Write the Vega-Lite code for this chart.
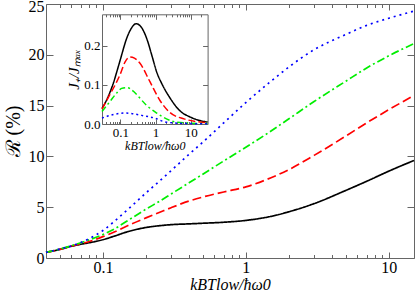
{
  "$schema": "https://vega.github.io/schema/vega-lite/v6.json",
  "width": 368,
  "height": 254,
  "autosize": "none",
  "padding": {"left": 46, "top": 4, "right": 1, "bottom": 37},
  "config": {
    "view": {"stroke": null},
    "axis": {
      "domainColor": "#666666",
      "tickColor": "#666666",
      "labelFont": "Liberation Serif",
      "titleFont": "Liberation Serif",
      "labelColor": "black",
      "titleColor": "black",
      "titleFontWeight": "normal",
      "grid": false,
      "labelOverlap": false,
      "labelFlush": false
    }
  },
  "datasets": {
    "main": [
      {"x": 0.04, "R": 0.55, "s": "a"}, {"x": 0.05, "R": 0.85, "s": "a"}, {"x": 0.06, "R": 1.15, "s": "a"}, {"x": 0.07, "R": 1.35, "s": "a"}, {"x": 0.08, "R": 1.5, "s": "a"}, {"x": 0.1, "R": 1.8, "s": "a"}, {"x": 0.12, "R": 2.15, "s": "a"}, {"x": 0.15, "R": 2.6, "s": "a"}, {"x": 0.2, "R": 3.0, "s": "a"}, {"x": 0.25, "R": 3.18, "s": "a"}, {"x": 0.3, "R": 3.28, "s": "a"}, {"x": 0.4, "R": 3.36, "s": "a"}, {"x": 0.5, "R": 3.42, "s": "a"}, {"x": 0.7, "R": 3.52, "s": "a"}, {"x": 1, "R": 3.7, "s": "a"}, {"x": 1.5, "R": 4.1, "s": "a"}, {"x": 2, "R": 4.55, "s": "a"}, {"x": 3, "R": 5.35, "s": "a"}, {"x": 5, "R": 6.65, "s": "a"}, {"x": 7, "R": 7.55, "s": "a"}, {"x": 10, "R": 8.55, "s": "a"}, {"x": 15, "R": 9.6, "s": "a"},
      {"x": 0.04, "R": 0.55, "s": "b"}, {"x": 0.05, "R": 0.85, "s": "b"}, {"x": 0.06, "R": 1.15, "s": "b"}, {"x": 0.07, "R": 1.4, "s": "b"}, {"x": 0.08, "R": 1.62, "s": "b"}, {"x": 0.1, "R": 2.1, "s": "b"}, {"x": 0.12, "R": 2.55, "s": "b"}, {"x": 0.15, "R": 3.2, "s": "b"}, {"x": 0.2, "R": 3.95, "s": "b"}, {"x": 0.25, "R": 4.5, "s": "b"}, {"x": 0.3, "R": 4.95, "s": "b"}, {"x": 0.4, "R": 5.6, "s": "b"}, {"x": 0.5, "R": 6.0, "s": "b"}, {"x": 0.7, "R": 6.5, "s": "b"}, {"x": 1, "R": 7.0, "s": "b"}, {"x": 1.5, "R": 7.9, "s": "b"}, {"x": 2, "R": 8.7, "s": "b"}, {"x": 3, "R": 10.1, "s": "b"}, {"x": 5, "R": 12.0, "s": "b"}, {"x": 7, "R": 13.3, "s": "b"}, {"x": 10, "R": 14.6, "s": "b"}, {"x": 15, "R": 16.0, "s": "b"},
      {"x": 0.04, "R": 0.55, "s": "c"}, {"x": 0.05, "R": 0.88, "s": "c"}, {"x": 0.06, "R": 1.2, "s": "c"}, {"x": 0.07, "R": 1.5, "s": "c"}, {"x": 0.08, "R": 1.78, "s": "c"}, {"x": 0.1, "R": 2.3, "s": "c"}, {"x": 0.12, "R": 2.85, "s": "c"}, {"x": 0.15, "R": 3.7, "s": "c"}, {"x": 0.2, "R": 4.8, "s": "c"}, {"x": 0.25, "R": 5.6, "s": "c"}, {"x": 0.3, "R": 6.3, "s": "c"}, {"x": 0.4, "R": 7.4, "s": "c"}, {"x": 0.5, "R": 8.25, "s": "c"}, {"x": 0.7, "R": 9.55, "s": "c"}, {"x": 1, "R": 10.9, "s": "c"}, {"x": 1.5, "R": 12.5, "s": "c"}, {"x": 2, "R": 13.7, "s": "c"}, {"x": 3, "R": 15.4, "s": "c"}, {"x": 5, "R": 17.4, "s": "c"}, {"x": 7, "R": 18.7, "s": "c"}, {"x": 10, "R": 19.9, "s": "c"}, {"x": 15, "R": 21.1, "s": "c"},
      {"x": 0.04, "R": 0.55, "s": "d"}, {"x": 0.05, "R": 0.88, "s": "d"}, {"x": 0.06, "R": 1.18, "s": "d"}, {"x": 0.07, "R": 1.52, "s": "d"}, {"x": 0.08, "R": 1.9, "s": "d"}, {"x": 0.1, "R": 2.7, "s": "d"}, {"x": 0.12, "R": 3.6, "s": "d"}, {"x": 0.15, "R": 4.8, "s": "d"}, {"x": 0.2, "R": 6.4, "s": "d"}, {"x": 0.25, "R": 7.6, "s": "d"}, {"x": 0.3, "R": 8.6, "s": "d"}, {"x": 0.4, "R": 10.2, "s": "d"}, {"x": 0.5, "R": 11.4, "s": "d"}, {"x": 0.7, "R": 13.3, "s": "d"}, {"x": 1, "R": 15.3, "s": "d"}, {"x": 1.5, "R": 17.4, "s": "d"}, {"x": 2, "R": 18.8, "s": "d"}, {"x": 3, "R": 20.5, "s": "d"}, {"x": 5, "R": 22.0, "s": "d"}, {"x": 7, "R": 22.9, "s": "d"}, {"x": 10, "R": 23.6, "s": "d"}, {"x": 15, "R": 24.3, "s": "d"}
    ],
    "inset": [
      {"x": 0.03, "J": 0.04, "s": "a"}, {"x": 0.04, "J": 0.06, "s": "a"}, {"x": 0.05, "J": 0.08, "s": "a"}, {"x": 0.065, "J": 0.108, "s": "a"}, {"x": 0.08, "J": 0.135, "s": "a"}, {"x": 0.1, "J": 0.165, "s": "a"}, {"x": 0.15, "J": 0.218, "s": "a"}, {"x": 0.2, "J": 0.243, "s": "a"}, {"x": 0.28, "J": 0.256, "s": "a"}, {"x": 0.4, "J": 0.246, "s": "a"}, {"x": 0.56, "J": 0.218, "s": "a"}, {"x": 0.8, "J": 0.172, "s": "a"}, {"x": 1.07, "J": 0.133, "s": "a"}, {"x": 1.5, "J": 0.103, "s": "a"}, {"x": 2.5, "J": 0.068, "s": "a"}, {"x": 5, "J": 0.033, "s": "a"}, {"x": 9.5, "J": 0.018, "s": "a"}, {"x": 15, "J": 0.011, "s": "a"}, {"x": 30, "J": 0.005, "s": "a"},
      {"x": 0.03, "J": 0.038, "s": "b"}, {"x": 0.05, "J": 0.075, "s": "b"}, {"x": 0.079, "J": 0.108, "s": "b"}, {"x": 0.1, "J": 0.128, "s": "b"}, {"x": 0.135, "J": 0.158, "s": "b"}, {"x": 0.188, "J": 0.171, "s": "b"}, {"x": 0.25, "J": 0.168, "s": "b"}, {"x": 0.36, "J": 0.155, "s": "b"}, {"x": 0.69, "J": 0.108, "s": "b"}, {"x": 1.33, "J": 0.06, "s": "b"}, {"x": 2.5, "J": 0.03, "s": "b"}, {"x": 6.4, "J": 0.013, "s": "b"}, {"x": 15, "J": 0.006, "s": "b"}, {"x": 30, "J": 0.003, "s": "b"},
      {"x": 0.03, "J": 0.032, "s": "c"}, {"x": 0.05, "J": 0.057, "s": "c"}, {"x": 0.08, "J": 0.08, "s": "c"}, {"x": 0.108, "J": 0.091, "s": "c"}, {"x": 0.15, "J": 0.093, "s": "c"}, {"x": 0.19, "J": 0.09, "s": "c"}, {"x": 0.25, "J": 0.081, "s": "c"}, {"x": 0.55, "J": 0.048, "s": "c"}, {"x": 1.07, "J": 0.028, "s": "c"}, {"x": 1.6, "J": 0.018, "s": "c"}, {"x": 3.4, "J": 0.006, "s": "c"}, {"x": 10, "J": 0.002, "s": "c"}, {"x": 30, "J": 0.001, "s": "c"},
      {"x": 0.03, "J": 0.015, "s": "d"}, {"x": 0.037, "J": 0.018, "s": "d"}, {"x": 0.07, "J": 0.025, "s": "d"}, {"x": 0.14, "J": 0.028, "s": "d"}, {"x": 0.19, "J": 0.027, "s": "d"}, {"x": 0.4, "J": 0.022, "s": "d"}, {"x": 1.1, "J": 0.013, "s": "d"}, {"x": 1.6, "J": 0.007, "s": "d"}, {"x": 3, "J": 0.003, "s": "d"}, {"x": 10, "J": 0.001, "s": "d"}, {"x": 30, "J": 0.0005, "s": "d"}
    ]
  },
  "layer": [
    {
      "data": {"name": "main"},
      "layer": [
        {
          "mark": {"type": "line", "interpolate": "monotone", "strokeWidth": 1.7},
          "encoding": {
            "x": {"field": "x", "type": "quantitative",
              "scale": {"type": "log", "domain": [0.04, 15], "nice": false},
              "axis": {"orient": "bottom", "values": [0.1, 1, 10], "format": "~g", "tickSize": -6, "labelPadding": 7, "labelFontSize": 16,
                "title": "kBTlow/ħω0", "titleFontSize": 16, "titleFontStyle": "italic", "titlePadding": 1}},
            "y": {"field": "R", "type": "quantitative",
              "scale": {"domain": [0, 25], "nice": false},
              "axis": {"orient": "left", "values": [0, 5, 10, 15, 20, 25], "tickSize": -7, "labelPadding": 9, "labelFontSize": 16,
                "labelOffset": {"condition": {"test": "datum.value == 25", "value": 2}, "value": 0},
                "title": "ℛ (%)", "titleFontSize": 20, "titlePadding": 5}},
            "color": {"field": "s", "type": "nominal", "legend": null,
              "scale": {"domain": ["a", "b", "c", "d"], "range": ["#000000", "#ff0000", "#00ee00", "#0000ff"]}},
            "strokeDash": {"field": "s", "type": "nominal", "legend": null,
              "scale": {"domain": ["a", "b", "c", "d"], "range": [[1, 0], [9, 4], [8, 3, 2, 3], [2, 4]]}}
          }
        },
        {
          "mark": {"type": "point", "opacity": 0},
          "encoding": {
            "x": {"field": "x", "type": "quantitative", "axis": {"orient": "top", "values": [0.1, 1, 10], "labels": false, "tickSize": -6, "title": null}},
            "y": {"field": "R", "type": "quantitative", "axis": {"orient": "right", "values": [0, 5, 10, 15, 20, 25], "labels": false, "tickSize": -7, "title": null}}
          }
        },
        {
          "mark": {"type": "point", "opacity": 0},
          "encoding": {
            "x": {"field": "x", "type": "quantitative", "axis": {"orient": "bottom", "values": [0.05, 0.06, 0.07, 0.08, 0.09, 0.2, 0.3, 0.4, 0.5, 0.6, 0.7, 0.8, 0.9, 2, 3, 4, 5, 6, 7, 8, 9], "labels": false, "domain": false, "tickSize": -3.5, "title": null}},
            "y": {"field": "R", "type": "quantitative", "axis": null}
          }
        },
        {
          "mark": {"type": "point", "opacity": 0},
          "encoding": {
            "x": {"field": "x", "type": "quantitative", "axis": {"orient": "top", "values": [0.05, 0.06, 0.07, 0.08, 0.09, 0.2, 0.3, 0.4, 0.5, 0.6, 0.7, 0.8, 0.9, 2, 3, 4, 5, 6, 7, 8, 9], "labels": false, "domain": false, "tickSize": -3.5, "title": null}},
            "y": {"field": "R", "type": "quantitative", "axis": null}
          }
        }
      ],
      "resolve": {"axis": {"x": "independent", "y": "independent"}}
    },
    {
      "data": {"name": "inset"},
      "layer": [
        {
          "mark": {"type": "line", "interpolate": "monotone", "strokeWidth": 1.5},
          "encoding": {
            "x": {"field": "x", "type": "quantitative",
              "scale": {"type": "log", "domain": [0.03, 30], "nice": false, "range": [56, 161.6]},
              "axis": {"orient": "bottom", "offset": -134, "values": [0.1, 1, 10], "format": "~g", "tickSize": -5, "labelPadding": 7, "labelFontSize": 13,
                "title": "kBTlow/ħω0", "titleFontSize": 12, "titleFontStyle": "italic", "titlePadding": 1}},
            "y": {"field": "J", "type": "quantitative",
              "scale": {"domain": [0, 0.28], "nice": false, "range": [120, 10.3]},
              "axis": {"orient": "left", "offset": -56, "values": [0, 0.1, 0.2], "tickSize": -5, "labelPadding": 7, "labelFontSize": 13,
                "title": "J₊/Jₘₐₓ", "titleFontSize": 15, "titleFontStyle": "italic", "titlePadding": 2}},
            "color": {"field": "s", "type": "nominal", "legend": null,
              "scale": {"domain": ["a", "b", "c", "d"], "range": ["#000000", "#ff0000", "#00ee00", "#0000ff"]}},
            "strokeDash": {"field": "s", "type": "nominal", "legend": null,
              "scale": {"domain": ["a", "b", "c", "d"], "range": [[1, 0], [7, 3], [6, 3, 2, 3], [2, 3]]}}
          }
        },
        {
          "mark": {"type": "point", "opacity": 0},
          "encoding": {
            "x": {"field": "x", "type": "quantitative", "axis": {"orient": "top", "offset": -10.3, "values": [0.1, 1, 10], "labels": false, "tickSize": -5, "title": null}},
            "y": {"field": "J", "type": "quantitative", "axis": {"orient": "right", "offset": -206.4, "values": [0, 0.1, 0.2], "labels": false, "tickSize": -5, "title": null}}
          }
        },
        {
          "mark": {"type": "point", "opacity": 0},
          "encoding": {
            "x": {"field": "x", "type": "quantitative", "axis": {"orient": "bottom", "offset": -134, "values": [0.04, 0.05, 0.06, 0.07, 0.08, 0.09, 0.2, 0.3, 0.4, 0.5, 0.6, 0.7, 0.8, 0.9, 2, 3, 4, 5, 6, 7, 8, 9, 20], "labels": false, "domain": false, "tickSize": -2.5, "title": null}},
            "y": {"field": "J", "type": "quantitative", "axis": null}
          }
        },
        {
          "mark": {"type": "point", "opacity": 0},
          "encoding": {
            "x": {"field": "x", "type": "quantitative", "axis": {"orient": "top", "offset": -10.3, "values": [0.04, 0.05, 0.06, 0.07, 0.08, 0.09, 0.2, 0.3, 0.4, 0.5, 0.6, 0.7, 0.8, 0.9, 2, 3, 4, 5, 6, 7, 8, 9, 20], "labels": false, "domain": false, "tickSize": -2.5, "title": null}},
            "y": {"field": "J", "type": "quantitative", "axis": null}
          }
        }
      ],
      "resolve": {"axis": {"x": "independent", "y": "independent"}}
    }
  ],
  "resolve": {"scale": {"x": "independent", "y": "independent", "color": "independent", "strokeDash": "independent"}}
}
